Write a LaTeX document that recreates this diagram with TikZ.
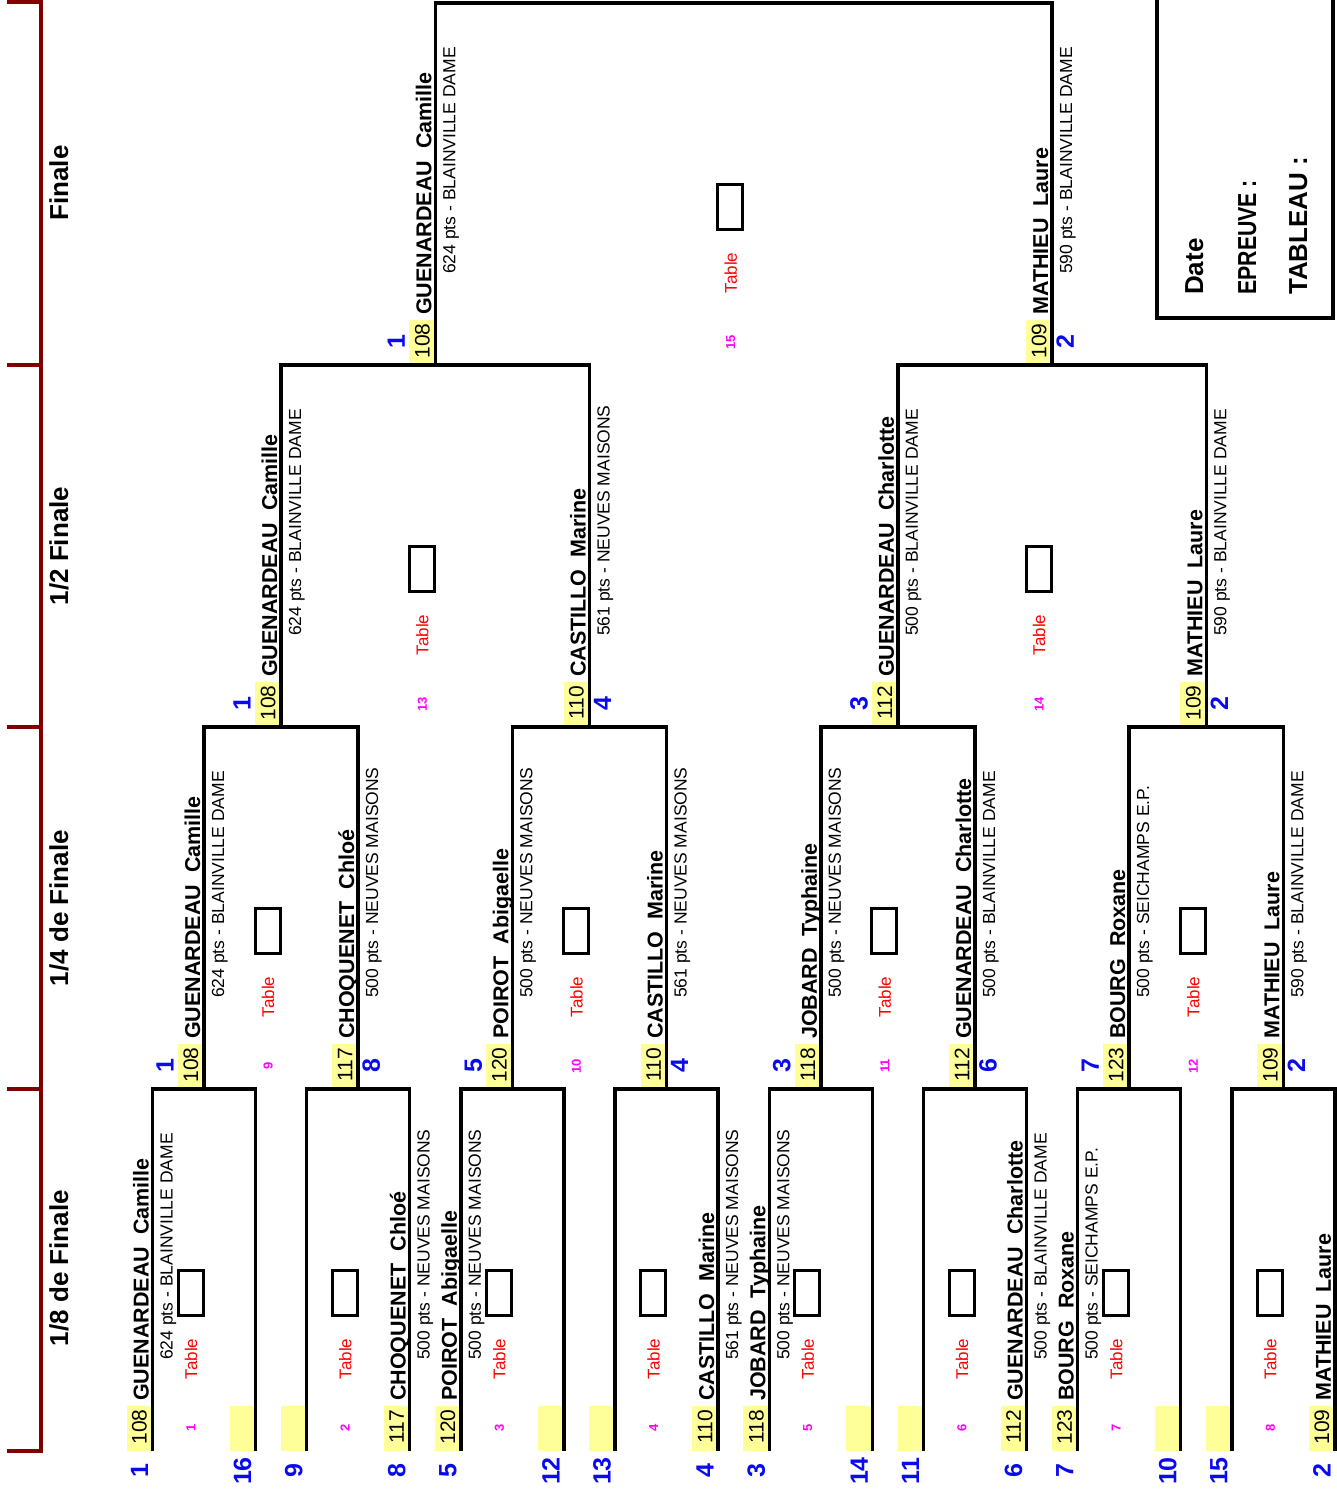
\documentclass[tikz,border=0pt]{standalone}
\usepackage{fontspec}
\setmainfont{Liberation Sans}
\definecolor{rankfill}{HTML}{FFFF99}
\definecolor{seedblue}{HTML}{0A0AF0}
\definecolor{stagered}{HTML}{800000}
\definecolor{tabred}{HTML}{FF0000}
\definecolor{tabmag}{HTML}{FF00FF}
\tikzset{
  br/.style={draw=black, line width=3.5pt, line join=miter},
  pname/.style={rotate=90, anchor=base west, inner sep=0pt, font=\fontsize{21.5}{24}\selectfont\bfseries},
  clubtxt/.style={rotate=90, anchor=base west, inner sep=0pt, font=\fontsize{17.5}{20}\selectfont},
  ranktxt/.style={rotate=90, inner sep=0pt, font=\fontsize{21}{24}\selectfont},
  seednum/.style={rotate=90, inner sep=0pt, text=seedblue, font=\fontsize{25}{28}\selectfont\bfseries},
  tabletxt/.style={rotate=90, inner sep=0pt, text=tabred, font=\fontsize{17}{19}\selectfont},
  matchnum/.style={rotate=90, inner sep=0pt, text=tabmag, font=\fontsize{13}{15}\selectfont\bfseries},
  tablebox/.style={draw=black, line width=3pt, minimum width=25pt, minimum height=45pt, inner sep=0pt},
  stagelbl/.style={rotate=90, anchor=base, inner sep=0pt, font=\fontsize{26}{30}\selectfont\bfseries},
  infolbl/.style={rotate=90, anchor=base west, inner sep=0pt, font=\fontsize{26}{30}\selectfont\bfseries},
  stageline/.style={draw=stagered, line width=3.2pt},
}
% player slot: id, X, B, seed, rank, name, club, side (0 below, 1 left, 2 right)
\newcommand\pslot[8]{%
  \fill[rankfill] ({#2-26},{#3-45}) rectangle (#2,#3);
  \coordinate (#1) at (#2,#3);
  \node[ranktxt] (#1-rk) at ({#2-13},{#3-24}) {#5};
  \node[pname] (#1-nm) at ({#2-4},{#3-50}) {#6};
  \def\tmpclub{#7}\ifx\tmpclub\empty\else
  \node[clubtxt] (#1-cl) at ({#2+20},{#3-91}) {#7};\fi
  \ifcase#8 \node[seednum] (#1-sd) at ({#2-13},{#3+20}) {#4};
  \or \node[seednum] (#1-sd) at ({#2-39},{#3-23}) {#4};
  \or \node[seednum] (#1-sd) at ({#2+13},{#3-23}) {#4};
  \fi
}
% bye slot: id, X, B, seed
\newcommand\bslot[4]{%
  \fill[rankfill] ({#2-26},{#3-45}) rectangle (#2,#3);
  \coordinate (#1) at (#2,#3);
  \node[seednum] (#1-sd) at ({#2-13},{#3+20}) {#4};
}
% match cell: id, M, B, number
\newcommand\matchcell[4]{%
  \node[tablebox] (#1-b) at ({#2-13.5},{#3-158}) {};
  \node[tabletxt] (#1-t) at ({#2-13},{#3-92}) {Table};
  \node[matchnum] (#1-n) at ({#2-13},{#3-23}) {#4};
}
\begin{document}
\begin{tikzpicture}[x=1pt,y=-1pt]
\useasboundingbox (0,0) rectangle (1337,1495);

% stage bracket
\draw[stageline] (7,2) -- (41,2) -- (41,1451) -- (7,1451);
\foreach \yy in {365,727,1089} \draw[stageline] (7,\yy) -- (41,\yy);
\node[stagelbl] (st4) at (68,183) {Finale};
\node[stagelbl] (st3) at (68,546) {1/2 Finale};
\node[stagelbl] (st2) at (68,908) {1/4 de Finale};
\node[stagelbl] (st1) at (68,1268) {1/8 de Finale};

% round 1 (1/8)
\pslot{a1}{152.5}{1451}{1}{108}{GUENARDEAU~~Camille}{624 pts - BLAINVILLE DAME}{0}
\bslot{a2}{255.5}{1451}{16}
\bslot{a3}{306.7}{1451}{9}
\pslot{a4}{409.7}{1451}{8}{117}{CHOQUENET~~Chloé}{500 pts - NEUVES MAISONS}{0}
\pslot{a5}{460.9}{1451}{5}{120}{POIROT~~Abigaelle}{500 pts - NEUVES MAISONS}{0}
\bslot{a6}{563.9}{1451}{12}
\bslot{a7}{615.1}{1451}{13}
\pslot{a8}{718.1}{1451}{4}{110}{CASTILLO~~Marine}{561 pts - NEUVES MAISONS}{0}
\pslot{a9}{769.3}{1451}{3}{118}{JOBARD~~Typhaine}{500 pts - NEUVES MAISONS}{0}
\bslot{a10}{872.3}{1451}{14}
\bslot{a11}{923.5}{1451}{11}
\pslot{a12}{1026.5}{1451}{6}{112}{GUENARDEAU~~Charlotte}{500 pts - BLAINVILLE DAME}{0}
\pslot{a13}{1077.7}{1451}{7}{123}{BOURG~~Roxane}{500 pts - SEICHAMPS E.P.}{0}
\bslot{a14}{1180.7}{1451}{10}
\bslot{a15}{1231.9}{1451}{15}
\pslot{a16}{1334.9}{1451}{2}{109}{MATHIEU~~Laure}{}{0}

% round 2 (1/4)
\pslot{b1}{204}{1089}{1}{108}{GUENARDEAU~~Camille}{624 pts - BLAINVILLE DAME}{1}
\pslot{b2}{358.2}{1089}{8}{117}{CHOQUENET~~Chloé}{500 pts - NEUVES MAISONS}{2}
\pslot{b3}{512.4}{1089}{5}{120}{POIROT~~Abigaelle}{500 pts - NEUVES MAISONS}{1}
\pslot{b4}{666.6}{1089}{4}{110}{CASTILLO~~Marine}{561 pts - NEUVES MAISONS}{2}
\pslot{b5}{820.8}{1089}{3}{118}{JOBARD~~Typhaine}{500 pts - NEUVES MAISONS}{1}
\pslot{b6}{975}{1089}{6}{112}{GUENARDEAU~~Charlotte}{500 pts - BLAINVILLE DAME}{2}
\pslot{b7}{1129.2}{1089}{7}{123}{BOURG~~Roxane}{500 pts - SEICHAMPS E.P.}{1}
\pslot{b8}{1283.4}{1089}{2}{109}{MATHIEU~~Laure}{590 pts - BLAINVILLE DAME}{2}

% round 3 (1/2)
\pslot{c1}{281.1}{727}{1}{108}{GUENARDEAU~~Camille}{624 pts - BLAINVILLE DAME}{1}
\pslot{c2}{589.5}{727}{4}{110}{CASTILLO~~Marine}{561 pts - NEUVES MAISONS}{2}
\pslot{c3}{897.9}{727}{3}{112}{GUENARDEAU~~Charlotte}{500 pts - BLAINVILLE DAME}{1}
\pslot{c4}{1206.3}{727}{2}{109}{MATHIEU~~Laure}{590 pts - BLAINVILLE DAME}{2}

% final
\pslot{d1}{435.3}{365}{1}{108}{GUENARDEAU~~Camille}{624 pts - BLAINVILLE DAME}{1}
\pslot{d2}{1052.1}{365}{2}{109}{MATHIEU~~Laure}{590 pts - BLAINVILLE DAME}{2}
\coordinate (champ) at (743.7,3);

% match cells
\matchcell{m1}{204}{1451}{1}
\matchcell{m2}{358.2}{1451}{2}
\matchcell{m3}{512.4}{1451}{3}
\matchcell{m4}{666.6}{1451}{4}
\matchcell{m5}{820.8}{1451}{5}
\matchcell{m6}{975}{1451}{6}
\matchcell{m7}{1129.2}{1451}{7}
\matchcell{m8}{1283.4}{1451}{8}
\matchcell{m9}{281.1}{1089}{9}
\matchcell{m10}{589.5}{1089}{10}
\matchcell{m11}{897.9}{1089}{11}
\matchcell{m12}{1206.3}{1089}{12}
\matchcell{m13}{435.3}{727}{13}
\matchcell{m14}{1052.1}{727}{14}
\matchcell{m15}{743.7}{365}{15}

% bracket lines
\draw[br] (a1) |- (b1) -| (a2);
\draw[br] (a3) |- (b2) -| (a4);
\draw[br] (a5) |- (b3) -| (a6);
\draw[br] (a7) |- (b4) -| (a8);
\draw[br] (a9) |- (b5) -| (a10);
\draw[br] (a11) |- (b6) -| (a12);
\draw[br] (a13) |- (b7) -| (a14);
\draw[br] (a15) |- (b8) -| (a16);
\draw[br] (b1) |- (c1) -| (b2);
\draw[br] (b3) |- (c2) -| (b4);
\draw[br] (b5) |- (c3) -| (b6);
\draw[br] (b7) |- (c4) -| (b8);
\draw[br] (c1) |- (d1) -| (c2);
\draw[br] (c3) |- (d2) -| (c4);
\draw[br] (d1) |- (champ) -| (d2);

% info box
\draw[draw=black, line width=4pt] (1157,-10) rectangle (1333,318);
\node[infolbl] (idate) at (1203,295) {Date};
\node[infolbl] (iepr) at (1256,295) {\scalebox{0.82}[1]{EPREUVE :}};
\node[infolbl] (itab) at (1307,295) {TABLEAU :};
\end{tikzpicture}
\end{document}
